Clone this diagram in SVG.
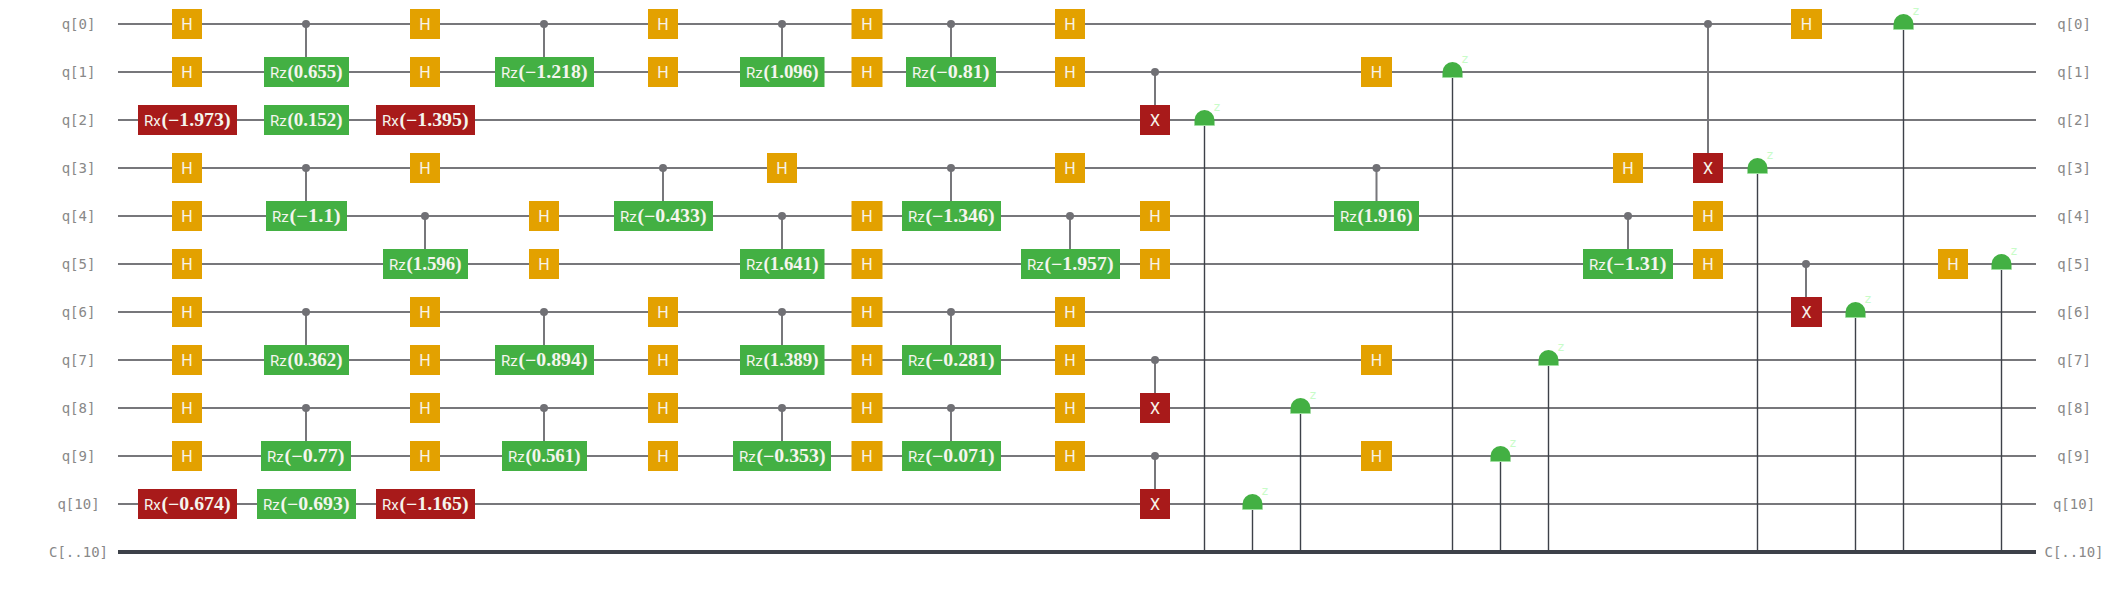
<svg xmlns="http://www.w3.org/2000/svg" width="2114" height="596" viewBox="0 0 2114 596">
<style>
text{white-space:pre}
.lbl{font:14px "DejaVu Sans Mono",monospace;fill:#888;text-anchor:middle}
.w{stroke:#77777b;stroke-width:2;fill:none}
.cw{stroke:#3d4149;stroke-width:4;fill:none}
.cl{stroke:#77777b;stroke-width:2;fill:none}
.ml{stroke:#3d4149;stroke-width:1.4;fill:none}
.dot{fill:#707075}
.H{fill:#e3a100}.Z{fill:#43b043}.X{fill:#a81a1a}
.t{font:16px Roboto,sans-serif;fill:#f7f3e8;text-anchor:middle}
.g{font:15px Roboto,sans-serif;fill:#f5f5ee}
.m{font:bold 18px "Liberation Serif",serif}
.md{fill:#43b043}
.mb{stroke:#9fe0a0;stroke-width:1;fill:none}
.z{font:13px "DejaVu Sans Mono",monospace;fill:#c8fcc8}
</style>
<defs>
<g id="meas"><path class="md" d="M-10 5.5V0A10 10 0 0 1 10 0V5.5Z"/><path class="mb" d="M-10 5.5H10"/></g>
</defs>
<g id="labels">
<text class="lbl" x="78.5" y="29">q[0]</text><text class="lbl" x="78.5" y="77">q[1]</text><text class="lbl" x="78.5" y="125">q[2]</text><text class="lbl" x="78.5" y="173">q[3]</text><text class="lbl" x="78.5" y="221">q[4]</text><text class="lbl" x="78.5" y="269">q[5]</text><text class="lbl" x="78.5" y="317">q[6]</text><text class="lbl" x="78.5" y="365">q[7]</text><text class="lbl" x="78.5" y="413">q[8]</text><text class="lbl" x="78.5" y="461">q[9]</text><text class="lbl" x="78.5" y="509">q[10]</text><text class="lbl" x="78.5" y="557">C[..10]</text>
<text class="lbl" x="2074" y="29">q[0]</text><text class="lbl" x="2074" y="77">q[1]</text><text class="lbl" x="2074" y="125">q[2]</text><text class="lbl" x="2074" y="173">q[3]</text><text class="lbl" x="2074" y="221">q[4]</text><text class="lbl" x="2074" y="269">q[5]</text><text class="lbl" x="2074" y="317">q[6]</text><text class="lbl" x="2074" y="365">q[7]</text><text class="lbl" x="2074" y="413">q[8]</text><text class="lbl" x="2074" y="461">q[9]</text><text class="lbl" x="2074" y="509">q[10]</text><text class="lbl" x="2074" y="557">C[..10]</text>
</g>
<g id="wires">
<path class="w" d="M118 24H2036M118 72H2036M118 120H2036M118 168H2036M118 216H2036M118 264H2036M118 312H2036M118 360H2036M118 408H2036M118 456H2036M118 504H2036"/>
<path class="cw" d="M118 552H2036"/>
</g>
<g id="connectors">
<path class="cl" d="M306 24V72M544 24V72M782 24V72M951 24V72M1155 72V120M306 168V216M663 168V216M951 168V216M1376.5 168V216M425 216V264M782 216V264M1070 216V264M1628 216V264M1806 264V312M306 312V360M544 312V360M782 312V360M951 312V360M1155 360V408M306 408V456M544 408V456M782 408V456M951 408V456M1155 456V504M1708 24V168"/>
<path class="ml" d="M1204.5 125V552M1252.5 509V552M1300.5 413V552M1452.5 77V552M1500.5 461V552M1548.5 365V552M1757.5 173V552M1855.5 317V552M1903.5 29V552M2001.5 269V552"/>
</g>
<g id="gates-q0">
<g id="q0-h1"><rect class="H" x="172" y="9" width="30" height="30"/><text class="t" x="187" y="30">H</text></g>
<g id="q0-c1"><circle class="dot" cx="306" cy="24" r="4"/></g>
<g id="q0-h2"><rect class="H" x="410" y="9" width="30" height="30"/><text class="t" x="425" y="30">H</text></g>
<g id="q0-c2"><circle class="dot" cx="544" cy="24" r="4"/></g>
<g id="q0-h3"><rect class="H" x="648" y="9" width="30" height="30"/><text class="t" x="663" y="30">H</text></g>
<g id="q0-c3"><circle class="dot" cx="782" cy="24" r="4"/></g>
<g id="q0-h4"><rect class="H" x="851.5" y="9" width="31" height="30"/><text class="t" x="867" y="30">H</text></g>
<g id="q0-c4"><circle class="dot" cx="951" cy="24" r="4"/></g>
<g id="q0-h5"><rect class="H" x="1055" y="9" width="30" height="30"/><text class="t" x="1070" y="30">H</text></g>
<g id="q0-c5"><circle class="dot" cx="1708" cy="24" r="4"/></g>
<g id="q0-h6"><rect class="H" x="1791" y="9" width="31" height="30"/><text class="t" x="1806.5" y="30">H</text></g>
<g id="q0-m"><use href="#meas" x="1903.5" y="24"/><text class="z" x="1912" y="15">z</text></g>
</g>
<g id="gates-q1">
<g id="q1-h1"><rect class="H" x="172" y="57" width="30" height="30"/><text class="t" x="187" y="78">H</text></g>
<g id="q1-rz1"><rect class="Z" x="264" y="57" width="85" height="30"/><text class="g" x="270" y="78">Rz<tspan class="m" x="287.5" textLength="55" lengthAdjust="spacingAndGlyphs">(0.655)</tspan></text></g>
<g id="q1-h2"><rect class="H" x="410" y="57" width="30" height="30"/><text class="t" x="425" y="78">H</text></g>
<g id="q1-rz2"><rect class="Z" x="495" y="57" width="99" height="30"/><text class="g" x="501" y="78">Rz<tspan class="m" x="518.5" textLength="69" lengthAdjust="spacingAndGlyphs">(−1.218)</tspan></text></g>
<g id="q1-h3"><rect class="H" x="648" y="57" width="30" height="30"/><text class="t" x="663" y="78">H</text></g>
<g id="q1-rz3"><rect class="Z" x="740" y="57" width="84.5" height="30"/><text class="g" x="746" y="78">Rz<tspan class="m" x="763.5" textLength="55" lengthAdjust="spacingAndGlyphs">(1.096)</tspan></text></g>
<g id="q1-h4"><rect class="H" x="851.5" y="57" width="31" height="30"/><text class="t" x="867" y="78">H</text></g>
<g id="q1-rz4"><rect class="Z" x="906" y="57" width="90" height="30"/><text class="g" x="912" y="78">Rz<tspan class="m" x="929.5" textLength="60" lengthAdjust="spacingAndGlyphs">(−0.81)</tspan></text></g>
<g id="q1-h5"><rect class="H" x="1055" y="57" width="30" height="30"/><text class="t" x="1070" y="78">H</text></g>
<g id="q1-c1"><circle class="dot" cx="1155" cy="72" r="4"/></g>
<g id="q1-h6"><rect class="H" x="1361" y="57" width="31" height="30"/><text class="t" x="1376.5" y="78">H</text></g>
<g id="q1-m"><use href="#meas" x="1452.5" y="72"/><text class="z" x="1461" y="63">z</text></g>
</g>
<g id="gates-q2">
<g id="q2-rx1"><rect class="X" x="138" y="105" width="99" height="30"/><text class="g" x="144" y="126">Rx<tspan class="m" x="161.5" textLength="69" lengthAdjust="spacingAndGlyphs">(−1.973)</tspan></text></g>
<g id="q2-rz1"><rect class="Z" x="264" y="105" width="85" height="30"/><text class="g" x="270" y="126">Rz<tspan class="m" x="287.5" textLength="55" lengthAdjust="spacingAndGlyphs">(0.152)</tspan></text></g>
<g id="q2-rx2"><rect class="X" x="376" y="105" width="99" height="30"/><text class="g" x="382" y="126">Rx<tspan class="m" x="399.5" textLength="69" lengthAdjust="spacingAndGlyphs">(−1.395)</tspan></text></g>
<g id="q2-x"><rect class="X" x="1140" y="105" width="30" height="30"/><text class="t" x="1155" y="126">X</text></g>
<g id="q2-m"><use href="#meas" x="1204.5" y="120"/><text class="z" x="1213" y="111">z</text></g>
</g>
<g id="gates-q3">
<g id="q3-h1"><rect class="H" x="172" y="153" width="30" height="30"/><text class="t" x="187" y="174">H</text></g>
<g id="q3-c1"><circle class="dot" cx="306" cy="168" r="4"/></g>
<g id="q3-h2"><rect class="H" x="410" y="153" width="30" height="30"/><text class="t" x="425" y="174">H</text></g>
<g id="q3-c2"><circle class="dot" cx="663" cy="168" r="4"/></g>
<g id="q3-h3"><rect class="H" x="767" y="153" width="30" height="30"/><text class="t" x="782" y="174">H</text></g>
<g id="q3-c3"><circle class="dot" cx="951" cy="168" r="4"/></g>
<g id="q3-h4"><rect class="H" x="1055" y="153" width="30" height="30"/><text class="t" x="1070" y="174">H</text></g>
<g id="q3-c4"><circle class="dot" cx="1376.5" cy="168" r="4"/></g>
<g id="q3-h5"><rect class="H" x="1613" y="153" width="30" height="30"/><text class="t" x="1628" y="174">H</text></g>
<g id="q3-x"><rect class="X" x="1693" y="153" width="30" height="30"/><text class="t" x="1708" y="174">X</text></g>
<g id="q3-m"><use href="#meas" x="1757.5" y="168"/><text class="z" x="1766" y="159">z</text></g>
</g>
<g id="gates-q4">
<g id="q4-h1"><rect class="H" x="172" y="201" width="30" height="30"/><text class="t" x="187" y="222">H</text></g>
<g id="q4-rz1"><rect class="Z" x="266" y="201" width="81" height="30"/><text class="g" x="272" y="222">Rz<tspan class="m" x="289.5" textLength="51" lengthAdjust="spacingAndGlyphs">(−1.1)</tspan></text></g>
<g id="q4-c1"><circle class="dot" cx="425" cy="216" r="4"/></g>
<g id="q4-h2"><rect class="H" x="529" y="201" width="30" height="30"/><text class="t" x="544" y="222">H</text></g>
<g id="q4-rz2"><rect class="Z" x="614" y="201" width="99" height="30"/><text class="g" x="620" y="222">Rz<tspan class="m" x="637.5" textLength="69" lengthAdjust="spacingAndGlyphs">(−0.433)</tspan></text></g>
<g id="q4-c2"><circle class="dot" cx="782" cy="216" r="4"/></g>
<g id="q4-h3"><rect class="H" x="851.5" y="201" width="31" height="30"/><text class="t" x="867" y="222">H</text></g>
<g id="q4-rz3"><rect class="Z" x="902" y="201" width="99" height="30"/><text class="g" x="908" y="222">Rz<tspan class="m" x="925.5" textLength="69" lengthAdjust="spacingAndGlyphs">(−1.346)</tspan></text></g>
<g id="q4-c3"><circle class="dot" cx="1070" cy="216" r="4"/></g>
<g id="q4-h4"><rect class="H" x="1140" y="201" width="30" height="30"/><text class="t" x="1155" y="222">H</text></g>
<g id="q4-rz4"><rect class="Z" x="1334" y="201" width="85" height="30"/><text class="g" x="1340" y="222">Rz<tspan class="m" x="1357.5" textLength="55" lengthAdjust="spacingAndGlyphs">(1.916)</tspan></text></g>
<g id="q4-c4"><circle class="dot" cx="1628" cy="216" r="4"/></g>
<g id="q4-h5"><rect class="H" x="1693" y="201" width="30" height="30"/><text class="t" x="1708" y="222">H</text></g>
</g>
<g id="gates-q5">
<g id="q5-h1"><rect class="H" x="172" y="249" width="30" height="30"/><text class="t" x="187" y="270">H</text></g>
<g id="q5-rz1"><rect class="Z" x="383" y="249" width="85" height="30"/><text class="g" x="389" y="270">Rz<tspan class="m" x="406.5" textLength="55" lengthAdjust="spacingAndGlyphs">(1.596)</tspan></text></g>
<g id="q5-h2"><rect class="H" x="529" y="249" width="30" height="30"/><text class="t" x="544" y="270">H</text></g>
<g id="q5-rz2"><rect class="Z" x="740" y="249" width="84.5" height="30"/><text class="g" x="746" y="270">Rz<tspan class="m" x="763.5" textLength="55" lengthAdjust="spacingAndGlyphs">(1.641)</tspan></text></g>
<g id="q5-h3"><rect class="H" x="851.5" y="249" width="31" height="30"/><text class="t" x="867" y="270">H</text></g>
<g id="q5-rz3"><rect class="Z" x="1021" y="249" width="99" height="30"/><text class="g" x="1027" y="270">Rz<tspan class="m" x="1044.5" textLength="69" lengthAdjust="spacingAndGlyphs">(−1.957)</tspan></text></g>
<g id="q5-h4"><rect class="H" x="1140" y="249" width="30" height="30"/><text class="t" x="1155" y="270">H</text></g>
<g id="q5-rz4"><rect class="Z" x="1583" y="249" width="90" height="30"/><text class="g" x="1589" y="270">Rz<tspan class="m" x="1606.5" textLength="60" lengthAdjust="spacingAndGlyphs">(−1.31)</tspan></text></g>
<g id="q5-h5"><rect class="H" x="1693" y="249" width="30" height="30"/><text class="t" x="1708" y="270">H</text></g>
<g id="q5-c1"><circle class="dot" cx="1806" cy="264" r="4"/></g>
<g id="q5-h6"><rect class="H" x="1938" y="249" width="30" height="30"/><text class="t" x="1953" y="270">H</text></g>
<g id="q5-m"><use href="#meas" x="2001.5" y="264"/><text class="z" x="2010" y="255">z</text></g>
</g>
<g id="gates-q6">
<g id="q6-h1"><rect class="H" x="172" y="297" width="30" height="30"/><text class="t" x="187" y="318">H</text></g>
<g id="q6-c1"><circle class="dot" cx="306" cy="312" r="4"/></g>
<g id="q6-h2"><rect class="H" x="410" y="297" width="30" height="30"/><text class="t" x="425" y="318">H</text></g>
<g id="q6-c2"><circle class="dot" cx="544" cy="312" r="4"/></g>
<g id="q6-h3"><rect class="H" x="648" y="297" width="30" height="30"/><text class="t" x="663" y="318">H</text></g>
<g id="q6-c3"><circle class="dot" cx="782" cy="312" r="4"/></g>
<g id="q6-h4"><rect class="H" x="851.5" y="297" width="31" height="30"/><text class="t" x="867" y="318">H</text></g>
<g id="q6-c4"><circle class="dot" cx="951" cy="312" r="4"/></g>
<g id="q6-h5"><rect class="H" x="1055" y="297" width="30" height="30"/><text class="t" x="1070" y="318">H</text></g>
<g id="q6-x"><rect class="X" x="1791" y="297" width="31" height="30"/><text class="t" x="1806.5" y="318">X</text></g>
<g id="q6-m"><use href="#meas" x="1855.5" y="312"/><text class="z" x="1864" y="303">z</text></g>
</g>
<g id="gates-q7">
<g id="q7-h1"><rect class="H" x="172" y="345" width="30" height="30"/><text class="t" x="187" y="366">H</text></g>
<g id="q7-rz1"><rect class="Z" x="264" y="345" width="85" height="30"/><text class="g" x="270" y="366">Rz<tspan class="m" x="287.5" textLength="55" lengthAdjust="spacingAndGlyphs">(0.362)</tspan></text></g>
<g id="q7-h2"><rect class="H" x="410" y="345" width="30" height="30"/><text class="t" x="425" y="366">H</text></g>
<g id="q7-rz2"><rect class="Z" x="495" y="345" width="99" height="30"/><text class="g" x="501" y="366">Rz<tspan class="m" x="518.5" textLength="69" lengthAdjust="spacingAndGlyphs">(−0.894)</tspan></text></g>
<g id="q7-h3"><rect class="H" x="648" y="345" width="30" height="30"/><text class="t" x="663" y="366">H</text></g>
<g id="q7-rz3"><rect class="Z" x="740" y="345" width="84.5" height="30"/><text class="g" x="746" y="366">Rz<tspan class="m" x="763.5" textLength="55" lengthAdjust="spacingAndGlyphs">(1.389)</tspan></text></g>
<g id="q7-h4"><rect class="H" x="851.5" y="345" width="31" height="30"/><text class="t" x="867" y="366">H</text></g>
<g id="q7-rz4"><rect class="Z" x="902" y="345" width="99" height="30"/><text class="g" x="908" y="366">Rz<tspan class="m" x="925.5" textLength="69" lengthAdjust="spacingAndGlyphs">(−0.281)</tspan></text></g>
<g id="q7-h5"><rect class="H" x="1055" y="345" width="30" height="30"/><text class="t" x="1070" y="366">H</text></g>
<g id="q7-c1"><circle class="dot" cx="1155" cy="360" r="4"/></g>
<g id="q7-h6"><rect class="H" x="1361" y="345" width="31" height="30"/><text class="t" x="1376.5" y="366">H</text></g>
<g id="q7-m"><use href="#meas" x="1548.5" y="360"/><text class="z" x="1557" y="351">z</text></g>
</g>
<g id="gates-q8">
<g id="q8-h1"><rect class="H" x="172" y="393" width="30" height="30"/><text class="t" x="187" y="414">H</text></g>
<g id="q8-c1"><circle class="dot" cx="306" cy="408" r="4"/></g>
<g id="q8-h2"><rect class="H" x="410" y="393" width="30" height="30"/><text class="t" x="425" y="414">H</text></g>
<g id="q8-c2"><circle class="dot" cx="544" cy="408" r="4"/></g>
<g id="q8-h3"><rect class="H" x="648" y="393" width="30" height="30"/><text class="t" x="663" y="414">H</text></g>
<g id="q8-c3"><circle class="dot" cx="782" cy="408" r="4"/></g>
<g id="q8-h4"><rect class="H" x="851.5" y="393" width="31" height="30"/><text class="t" x="867" y="414">H</text></g>
<g id="q8-c4"><circle class="dot" cx="951" cy="408" r="4"/></g>
<g id="q8-h5"><rect class="H" x="1055" y="393" width="30" height="30"/><text class="t" x="1070" y="414">H</text></g>
<g id="q8-x"><rect class="X" x="1140" y="393" width="30" height="30"/><text class="t" x="1155" y="414">X</text></g>
<g id="q8-m"><use href="#meas" x="1300.5" y="408"/><text class="z" x="1309" y="399">z</text></g>
</g>
<g id="gates-q9">
<g id="q9-h1"><rect class="H" x="172" y="441" width="30" height="30"/><text class="t" x="187" y="462">H</text></g>
<g id="q9-rz1"><rect class="Z" x="261" y="441" width="90" height="30"/><text class="g" x="267" y="462">Rz<tspan class="m" x="284.5" textLength="60" lengthAdjust="spacingAndGlyphs">(−0.77)</tspan></text></g>
<g id="q9-h2"><rect class="H" x="410" y="441" width="30" height="30"/><text class="t" x="425" y="462">H</text></g>
<g id="q9-rz2"><rect class="Z" x="502" y="441" width="85" height="30"/><text class="g" x="508" y="462">Rz<tspan class="m" x="525.5" textLength="55" lengthAdjust="spacingAndGlyphs">(0.561)</tspan></text></g>
<g id="q9-h3"><rect class="H" x="648" y="441" width="30" height="30"/><text class="t" x="663" y="462">H</text></g>
<g id="q9-rz3"><rect class="Z" x="733" y="441" width="98" height="30"/><text class="g" x="739" y="462">Rz<tspan class="m" x="756.5" textLength="69" lengthAdjust="spacingAndGlyphs">(−0.353)</tspan></text></g>
<g id="q9-h4"><rect class="H" x="851.5" y="441" width="31" height="30"/><text class="t" x="867" y="462">H</text></g>
<g id="q9-rz4"><rect class="Z" x="902" y="441" width="99" height="30"/><text class="g" x="908" y="462">Rz<tspan class="m" x="925.5" textLength="69" lengthAdjust="spacingAndGlyphs">(−0.071)</tspan></text></g>
<g id="q9-h5"><rect class="H" x="1055" y="441" width="30" height="30"/><text class="t" x="1070" y="462">H</text></g>
<g id="q9-c1"><circle class="dot" cx="1155" cy="456" r="4"/></g>
<g id="q9-h6"><rect class="H" x="1361" y="441" width="31" height="30"/><text class="t" x="1376.5" y="462">H</text></g>
<g id="q9-m"><use href="#meas" x="1500.5" y="456"/><text class="z" x="1509" y="447">z</text></g>
</g>
<g id="gates-q10">
<g id="q10-rx1"><rect class="X" x="138" y="489" width="99" height="30"/><text class="g" x="144" y="510">Rx<tspan class="m" x="161.5" textLength="69" lengthAdjust="spacingAndGlyphs">(−0.674)</tspan></text></g>
<g id="q10-rz1"><rect class="Z" x="257" y="489" width="99" height="30"/><text class="g" x="263" y="510">Rz<tspan class="m" x="280.5" textLength="69" lengthAdjust="spacingAndGlyphs">(−0.693)</tspan></text></g>
<g id="q10-rx2"><rect class="X" x="376" y="489" width="99" height="30"/><text class="g" x="382" y="510">Rx<tspan class="m" x="399.5" textLength="69" lengthAdjust="spacingAndGlyphs">(−1.165)</tspan></text></g>
<g id="q10-x"><rect class="X" x="1140" y="489" width="30" height="30"/><text class="t" x="1155" y="510">X</text></g>
<g id="q10-m"><use href="#meas" x="1252.5" y="504"/><text class="z" x="1261" y="495">z</text></g>
</g>
</svg>
